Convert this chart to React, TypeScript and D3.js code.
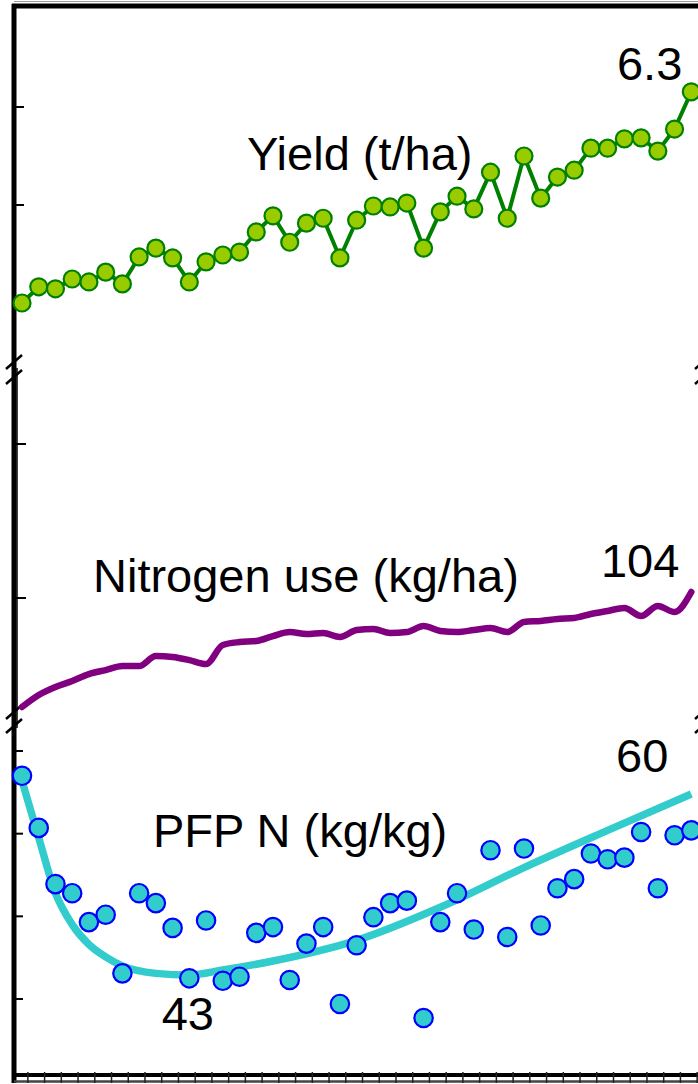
import React, { useEffect, useRef } from "react";
import * as d3 from "d3";

// one point per season, 41 seasons
const years = Array.from({ length: 41 }, (_, i) => 1965 + i);

const yieldValues = [
  2.0, 2.33, 2.29, 2.49, 2.43, 2.63, 2.39, 2.94, 3.12, 2.92, 2.43, 2.84, 2.98,
  3.04, 3.45, 3.78, 3.24, 3.63, 3.73, 2.92, 3.69, 3.98, 3.96, 4.04, 3.12, 3.86,
  4.18, 3.92, 4.67, 3.73, 5.0, 4.14, 4.57, 4.71, 5.16, 5.16, 5.35, 5.37, 5.1,
  5.55, 6.31,
];

const nitrogenUse = [
  29.2, 37.0, 42.2, 46.1, 50.6, 53.2, 55.8, 55.8, 62.3, 61.7, 59.7, 57.1, 69.5,
  71.4, 72.1, 75.3, 77.9, 76.6, 77.3, 74.7, 79.2, 79.9, 77.3, 77.9, 81.8, 78.6,
  77.9, 79.2, 80.5, 77.9, 84.4, 85.1, 86.4, 87.0, 89.6, 91.6, 93.5, 88.3, 94.8,
  90.9, 103.9,
];

const pfpValues = [
  67.0, 60.7, 53.9, 52.8, 49.3, 50.2, 43.1, 52.8, 51.6, 48.6, 42.5, 49.5, 42.2,
  42.7, 48.0, 48.7, 42.3, 46.7, 48.7, 39.4, 46.5, 49.9, 51.6, 51.9, 37.7, 49.3,
  52.8, 48.4, 58.0, 47.5, 58.2, 48.9, 53.4, 54.5, 57.6, 56.9, 57.1, 60.2, 53.4,
  59.8, 60.4,
];

// fitted curve
const pfpTrendYears = [
  1965, 1966, 1967, 1968, 1969, 1970, 1971, 1973, 1975, 1977, 1980, 1985, 1990,
  1995, 2000, 2005,
];
const pfpTrendValues = [
  66.4, 59.5, 52.8, 49.0, 46.6, 45.1, 44.0, 43.1, 42.9, 43.5, 44.6, 47.1, 51.1,
  55.9, 60.4, 64.8,
];

const yieldTicks = [2, 4, 6];
const nitrogenTicks = [100, 200];
const pfpTicks = [40, 50, 60, 70];

const W = 698;
const H = 1084;
const FONT = "'Liberation Sans', Arial, sans-serif";

const App = () => {
  const ref = useRef<SVGSVGElement>(null);

  useEffect(() => {
    const svg = d3.select(ref.current);
    svg.selectAll("*").remove();

    const x = d3.scalePoint<number>().domain(years).range([22, 691.3]);
    const step = x.step();
    const yYield = d3.scaleLinear().domain([2, 6]).range([303, 107]);
    const yN = d3.scaleLinear().domain([100, 200]).range([598, 444]);
    const yPfp = d3.scaleLinear().domain([40, 70]).range([999, 751]);

    const axisX = 14;
    const rightX = 703;
    const bottomY = 1075;

    // frame
    svg.append("line").attr("x1", axisX).attr("x2", W).attr("y1", 1.5).attr("y2", 1.5)
      .attr("stroke", "#999").attr("stroke-width", 1);
    svg.append("line").attr("x1", axisX - 2).attr("x2", W).attr("y1", 6).attr("y2", 6)
      .attr("stroke", "#000").attr("stroke-width", 5);
    svg.append("line").attr("x1", axisX).attr("x2", axisX).attr("y1", 4).attr("y2", 1083)
      .attr("stroke", "#000").attr("stroke-width", 5);
    svg.append("line").attr("x1", axisX + 3).attr("x2", axisX + 3).attr("y1", 368).attr("y2", 728)
      .attr("stroke", "#000").attr("stroke-width", 1.5);
    svg.append("line").attr("x1", axisX).attr("x2", W).attr("y1", bottomY).attr("y2", bottomY)
      .attr("stroke", "#000").attr("stroke-width", 4);
    svg.append("line").attr("x1", axisX).attr("x2", W).attr("y1", 1081.5).attr("y2", 1081.5)
      .attr("stroke", "#444").attr("stroke-width", 2.5);

    // bottom minor ticks
    svg.append("g").selectAll("line").data(years).enter().append("line")
      .attr("x1", (d) => x(d)! + step * 0.35)
      .attr("x2", (d) => x(d)! + step * 0.35)
      .attr("y1", bottomY - 3).attr("y2", 1083)
      .attr("stroke", "#222").attr("stroke-width", 1.5);

    // left ticks per panel
    const ticks = (vals: number[], scale: d3.ScaleLinear<number, number>, len: number) => {
      svg.append("g").selectAll("line").data(vals).enter().append("line")
        .attr("x1", axisX).attr("x2", axisX + len)
        .attr("y1", (d) => scale(d)).attr("y2", (d) => scale(d))
        .attr("stroke", "#000").attr("stroke-width", 2);
    };
    ticks(yieldTicks, yYield, 10);
    ticks(nitrogenTicks, yN, 12);
    ticks(pfpTicks, yPfp, 9);

    // axis break marks
    const breaks = [362, 377, 712, 726];
    [axisX, rightX].forEach((bx) => {
      svg.append("g").selectAll("path").data(breaks).enter().append("path")
        .attr("d", (by) => `M${bx - 8},${by + 7}L${bx + 8},${by - 7}`)
        .attr("stroke", "#000").attr("stroke-width", 2.5).attr("fill", "none");
    });

    // yield
    const yieldLine = d3.line<number>()
      .x((d, i) => x(years[i])!)
      .y((d) => yYield(d));
    svg.append("path").attr("d", yieldLine(yieldValues))
      .attr("fill", "none").attr("stroke", "#008000").attr("stroke-width", 4)
      .attr("stroke-linejoin", "round");
    svg.append("g").selectAll("circle").data(yieldValues).enter().append("circle")
      .attr("cx", (d, i) => x(years[i])!)
      .attr("cy", (d) => yYield(d))
      .attr("r", 8.5)
      .attr("fill", "#99cc00").attr("stroke", "#008000").attr("stroke-width", 2.2);

    // nitrogen use
    const nLine = d3.line<number>()
      .x((d, i) => x(years[i])!)
      .y((d) => yN(d))
      .curve(d3.curveMonotoneX);
    svg.append("path").attr("d", nLine(nitrogenUse))
      .attr("fill", "none").attr("stroke", "#800080").attr("stroke-width", 6.5)
      .attr("stroke-linejoin", "round").attr("stroke-linecap", "round");

    // PFP N
    const trendLine = d3.line<number>()
      .x((d, i) => x(pfpTrendYears[i])!)
      .y((d) => yPfp(d))
      .curve(d3.curveMonotoneX);
    svg.append("path").attr("d", trendLine(pfpTrendValues))
      .attr("fill", "none").attr("stroke", "#33cccc").attr("stroke-width", 7.5);
    svg.append("g").selectAll("circle").data(pfpValues).enter().append("circle")
      .attr("cx", (d, i) => x(years[i])!)
      .attr("cy", (d) => yPfp(d))
      .attr("r", 9.2)
      .attr("fill", "#33cccc").attr("stroke", "#0000ff").attr("stroke-width", 2.2);

    // labels
    const label = (t: string, lx: number, ly: number, anchor = "start") => {
      svg.append("text").attr("x", lx).attr("y", ly).attr("text-anchor", anchor)
        .attr("font-family", FONT).attr("font-size", 47).attr("fill", "#000").text(t);
    };
    const last = years[years.length - 1];
    label("Yield (t/ha)", 247, 170);
    label("6.3", x(last)! - 9, yYield(6.31) - 12, "end");
    label("Nitrogen use (kg/ha)", 93, 592);
    label("104", x(last)! - 12, yN(103.9) - 15, "end");
    label("PFP N (kg/kg)", 153, 847);
    label("60", x(last)! - 23, yPfp(60.4) - 58, "end");
    label("43", x(1973)! + 32, yPfp(42.9) + 55, "middle");
  }, []);

  return (
    <svg
      ref={ref}
      width={W}
      height={H}
      style={{ position: "absolute", left: 0, top: 0, background: "#fff" }}
    ></svg>
  );
};

export default App;
